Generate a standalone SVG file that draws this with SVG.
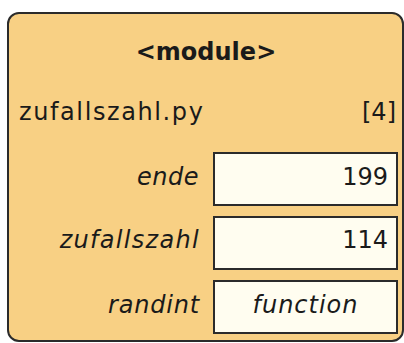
<svg xmlns="http://www.w3.org/2000/svg" width="404" height="343" viewBox="0 0 404 343">
<style>
.t{font-family:"DejaVu Sans",sans-serif;font-size:24px;fill:#1a1a1a}
.b{font-weight:bold}
.i{font-style:italic}
.s{letter-spacing:1.3px}
.val{fill:#FFFDF0;stroke:#2b2b2b;stroke-width:2}
</style>
<g id="module">
<rect x="8" y="13" width="395" height="328" rx="11" fill="#F8D084" stroke="#2b2b2b" stroke-width="2"/>
<text class="t b" x="206" y="60" text-anchor="middle">&lt;module&gt;</text>
<text class="t" x="19" y="120" style="letter-spacing:1.6px">zufallszahl.py</text>
<text class="t" x="396" y="120" text-anchor="end">[4]</text>
</g>
<g id="var-ende">
<text class="t i" x="199" y="185" text-anchor="end" style="letter-spacing:0.5px">ende</text>
<rect class="val" x="214" y="153" width="183" height="52"/>
<text class="t" x="388" y="185" text-anchor="end">199</text>
</g>
<g id="var-zufallszahl">
<text class="t i s" x="200" y="248" text-anchor="end">zufallszahl</text>
<rect class="val" x="214" y="217" width="183" height="52"/>
<text class="t" x="388" y="248" text-anchor="end">114</text>
</g>
<g id="var-randint">
<text class="t i" x="200" y="313" text-anchor="end" style="letter-spacing:0.8px">randint</text>
<rect class="val" x="214" y="281" width="183" height="52"/>
<text class="t i" x="305.5" y="313" text-anchor="middle" style="letter-spacing:1px">function</text>
</g>
<g id="connectors"/>
</svg>
